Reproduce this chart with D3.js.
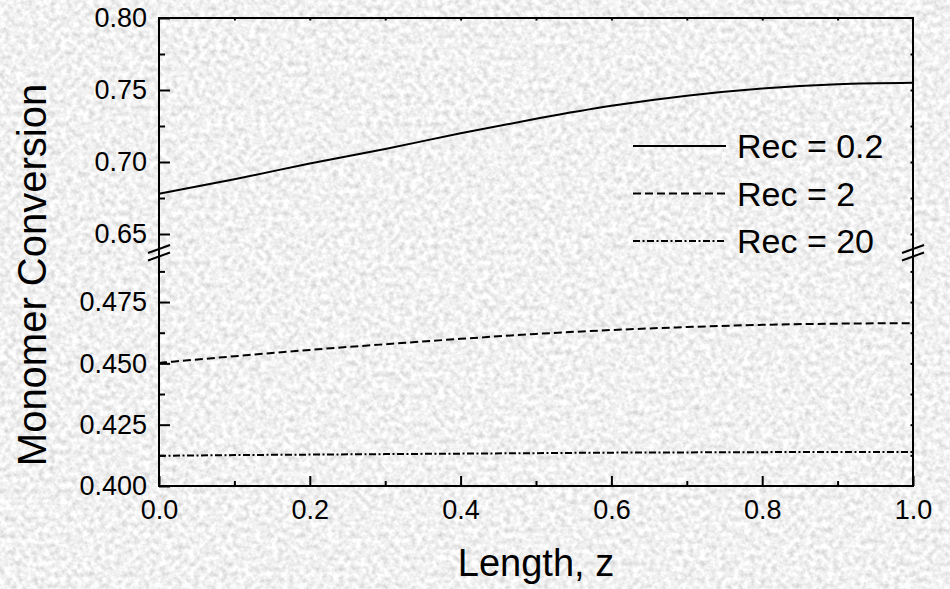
<!DOCTYPE html>
<html>
<head>
<meta charset="utf-8">
<script src="https://cdn.jsdelivr.net/npm/d3@7"></script>
<style>
  html, body { margin: 0; padding: 0; background: #e2e2e2; }
  svg { display: block; }
</style>
</head>
<body>
<div id="chart"></div>
<script>
// values
const zValues = [0, 0.1, 0.2, 0.3, 0.4, 0.5, 0.6, 0.7, 0.8, 0.9, 1.0];
const rec02 = [0.678, 0.688, 0.699, 0.709, 0.720, 0.730, 0.739, 0.746, 0.751, 0.754, 0.755];
const rec2 = [0.4502, 0.4529, 0.4555, 0.4578, 0.4600, 0.4620, 0.4636, 0.4648, 0.4657, 0.4662, 0.4664];
const rec20 = [0.4123, 0.4126, 0.4128, 0.4130, 0.4132, 0.4134, 0.4136, 0.4137, 0.4138, 0.4139, 0.4139];
const seriesNames = ['Rec = 0.2', 'Rec = 2', 'Rec = 20'];
const xTicks = [0, 0.2, 0.4, 0.6, 0.8, 1.0];
const upperTicks = [0.65, 0.70, 0.75, 0.80];
const lowerTicks = [0.400, 0.425, 0.450, 0.475];

const W = 950, H = 589;
const font = "Arial, 'Liberation Sans', sans-serif";

const svg = d3.select('#chart').append('svg').attr('width', W).attr('height', H);

// granite-like paper texture
const defs = svg.append('defs');
const f = defs.append('filter').attr('id', 'granite')
  .attr('x', 0).attr('y', 0).attr('width', '100%').attr('height', '100%');
f.append('feTurbulence').attr('type', 'fractalNoise').attr('baseFrequency', 0.18)
  .attr('numOctaves', 3).attr('seed', 7).attr('result', 'n1');
f.append('feColorMatrix').attr('in', 'n1').attr('type', 'matrix')
  .attr('values', '0.62 0 0 0 0.57  0.62 0 0 0 0.57  0.62 0 0 0 0.57  0 0 0 0 1');
svg.append('rect').attr('width', W).attr('height', H).attr('fill', '#e2e2e2');
svg.append('rect').attr('width', W).attr('height', H).attr('filter', 'url(#granite)');

const pL = 159, pR = 913, pT = 18, pB = 486;

const x = d3.scaleLinear().domain([0, 1]).range([pL, pR]);
const yUp = d3.scaleLinear().domain([0.64, 0.80]).range([248.4, pT]);
const yLo = d3.scaleLinear().domain([0.40, 0.495]).range([pB, 253]);

const g = svg.append('g');

function styleAxis(sel, size) {
  sel.select('.domain').remove();
  sel.selectAll('line').attr('stroke', '#000').attr('stroke-width', 2);
  sel.selectAll('text').attr('font-family', font).attr('font-size', size).attr('fill', '#000');
}

// bottom axis
g.append('g').attr('transform', `translate(0,${pB})`)
  .call(d3.axisBottom(x).tickValues(xTicks).tickFormat(d3.format('.1f')).tickSize(-10).tickPadding(14))
  .call(s => styleAxis(s, 27));
g.append('g').attr('transform', `translate(0,${pB})`)
  .call(d3.axisBottom(x).tickValues([0.1, 0.3, 0.5, 0.7, 0.9]).tickFormat('').tickSize(-5))
  .call(s => styleAxis(s, 27));
// top axis (tiny ticks)
g.append('g').attr('transform', `translate(0,${pT})`)
  .call(d3.axisTop(x).tickValues(d3.range(1, 10).map(d => d / 10)).tickFormat('').tickSize(-2.5))
  .call(s => styleAxis(s, 27));

// left axes, upper and lower parts
g.append('g').attr('transform', `translate(${pL},0)`)
  .call(d3.axisLeft(yUp).tickValues(upperTicks).tickFormat(d3.format('.2f')).tickSize(-11).tickPadding(12))
  .call(s => styleAxis(s, 27));
g.append('g').attr('transform', `translate(${pL},0)`)
  .call(d3.axisLeft(yUp).tickValues([0.675, 0.725, 0.775]).tickFormat('').tickSize(-6))
  .call(s => styleAxis(s, 27));
g.append('g').attr('transform', `translate(${pL},0)`)
  .call(d3.axisLeft(yLo).tickValues(lowerTicks).tickFormat(d3.format('.3f')).tickSize(-11).tickPadding(12))
  .call(s => styleAxis(s, 27));
g.append('g').attr('transform', `translate(${pL},0)`)
  .call(d3.axisLeft(yLo).tickValues([0.4125, 0.4375, 0.4625, 0.4875]).tickFormat('').tickSize(-6))
  .call(s => styleAxis(s, 27));

// right axes (tiny ticks)
g.append('g').attr('transform', `translate(${pR},0)`)
  .call(d3.axisRight(yUp).tickValues([0.65, 0.675, 0.70, 0.725, 0.75, 0.775]).tickFormat('').tickSize(-2.5))
  .call(s => styleAxis(s, 27));
g.append('g').attr('transform', `translate(${pR},0)`)
  .call(d3.axisRight(yLo).tickValues([0.4125, 0.425, 0.4375, 0.45, 0.4625, 0.475, 0.4875]).tickFormat('').tickSize(-2.5))
  .call(s => styleAxis(s, 27));

// frame
g.append('rect').attr('x', pL).attr('y', pT).attr('width', pR - pL).attr('height', pB - pT)
  .attr('fill', 'none').attr('stroke', '#000').attr('stroke-width', 2);

// axis break marks
[pL, pR].forEach(cx => {
  [249, 256.5].forEach(cy => {
    g.append('line').attr('x1', cx - 11).attr('y1', cy + 4).attr('x2', cx + 11).attr('y2', cy - 4)
      .attr('stroke', '#000').attr('stroke-width', 2);
  });
});

// curves
const series = [
  { vals: rec02, y: yUp, dash: null },
  { vals: rec2, y: yLo, dash: '8,4' },
  { vals: rec20, y: yLo, dash: '7,2.5,2,2.5' }
];
series.forEach(s => {
  const line = d3.line().x((d, i) => x(zValues[i])).y(d => s.y(d)).curve(d3.curveMonotoneX);
  g.append('path').datum(s.vals).attr('d', line)
    .attr('fill', 'none').attr('stroke', '#000').attr('stroke-width', 2)
    .attr('stroke-dasharray', s.dash);
});

// legend
const legend = g.append('g');
const legY = [146, 193.5, 241];
series.forEach((s, i) => {
  legend.append('line').attr('x1', 633).attr('x2', 726).attr('y1', legY[i]).attr('y2', legY[i])
    .attr('stroke', '#000').attr('stroke-width', 2).attr('stroke-dasharray', s.dash);
  legend.append('text').attr('x', 737).attr('y', legY[i]).attr('dy', '0.36em')
    .attr('font-family', font).attr('font-size', 34).attr('fill', '#000')
    .text(seriesNames[i]);
});

// axis titles
g.append('text').attr('x', (pL + pR) / 2).attr('y', 576)
  .attr('text-anchor', 'middle').attr('font-family', font).attr('font-size', 38).attr('fill', '#000')
  .text('Length, z');
g.append('text').attr('transform', 'translate(46,275) rotate(-90)')
  .attr('text-anchor', 'middle').attr('font-family', font).attr('font-size', 40).attr('fill', '#000')
  .text('Monomer Conversion');
</script>
</body>
</html>
